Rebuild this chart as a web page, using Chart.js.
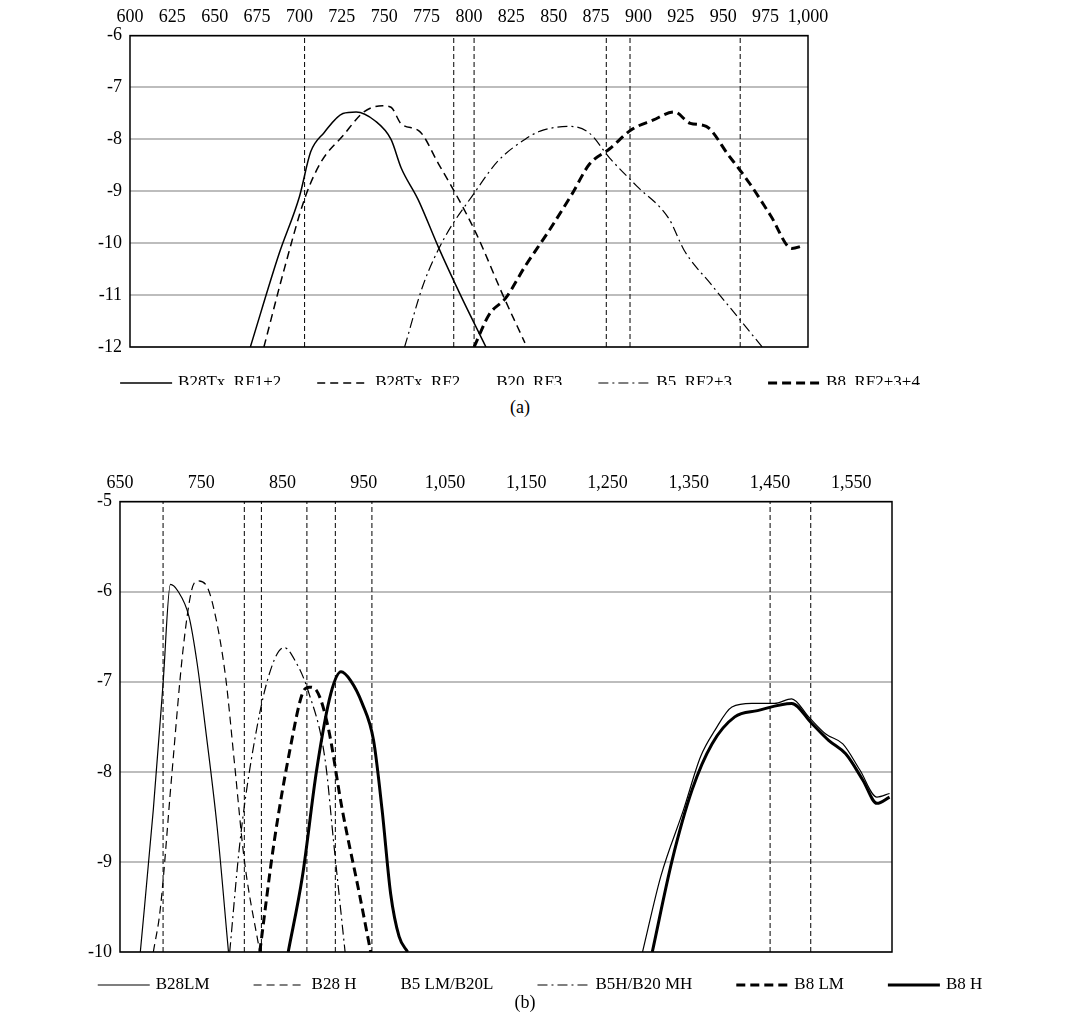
<!DOCTYPE html>
<html>
<head>
<meta charset="utf-8">
<script src="https://cdn.jsdelivr.net/npm/chart.js@4/dist/chart.umd.min.js"></script>
<style>
  body { margin: 0; background: #fff; width: 1080px; height: 1026px; position: relative; font-family: "Liberation Serif", serif; }
  .box { position: absolute; left: 0; width: 1080px; }
  .cap { position: absolute; width: 100%; text-align: center; font-size: 18px; }
</style>
</head>
<body>
<div class="box" style="top:0;height:385px"><canvas id="chartA"></canvas></div>
<div class="cap" style="top:397px;left:-20px">(a)</div>
<div class="box" style="top:458px;height:540px"><canvas id="chartB"></canvas></div>
<div class="cap" style="top:992px;left:-15px">(b)</div>
<script>
// ---- (a) ----
const ticksA = [600, 625, 650, 675, 700, 725, 750, 775, 800, 825, 850, 875, 900, 925, 950, 975, 1000];
const markersA = [703, 791, 803, 881, 895, 960];
const rf12X = [671, 688, 700, 706.6, 714.5, 725.6, 733.4, 744.5, 754, 760, 770, 782, 795, 810];
const rf12Y = [-12, -10.2, -9.1, -8.24, -7.87, -7.5, -7.47, -7.64, -8.0, -8.55, -9.16, -10.08, -11, -12];
const rf2X = [679, 691, 703.5, 713, 725.6, 738, 749, 754, 760, 771, 782, 792, 804.5, 820, 833];
const rf2Y = [-12, -10.5, -9.1, -8.42, -7.93, -7.47, -7.35, -7.38, -7.7, -7.85, -8.47, -9.04, -9.83, -11, -11.92];
const b5aX = [762, 773, 785.5, 803, 817, 833, 842, 859.6, 870.7, 883, 899, 918, 927, 943, 960.5, 973];
const b5aY = [-12, -10.8, -9.9, -9.04, -8.42, -8.0, -7.84, -7.75, -7.87, -8.36, -8.9, -9.53, -10.14, -10.8, -11.5, -12];
const b8X = [803, 812, 821.6, 833, 847, 861, 871, 883, 896, 908.5, 921, 930.6, 940, 953, 965.6, 978, 990.5, 997];
const b8Y = [-12, -11.37, -11.06, -10.45, -9.77, -9.04, -8.48, -8.18, -7.81, -7.63, -7.47, -7.69, -7.75, -8.3, -8.85, -9.47, -10.1, -10.05];

// ---- (b) ----
const ticksB = [650, 750, 850, 950, 1050, 1150, 1250, 1350, 1450, 1550];
const markersB = [703, 803, 824, 880, 915, 960, 1450, 1500];
const lmX = [675, 691, 703, 712, 721, 735, 745, 755.5, 769.5, 783.5];
const lmY = [-10, -8.42, -7.02, -5.92, -5.99, -6.28, -6.8, -7.54, -8.61, -10];
const hX = [691, 699.5, 713.5, 727.5, 738, 745, 755.5, 766, 780, 790.5, 803, 822];
const hY = [-10, -9.53, -8.06, -6.65, -5.99, -5.88, -5.92, -6.21, -6.95, -7.87, -8.98, -10];
const b5lX = [1293, 1315.5, 1343.5, 1364.5, 1382, 1403, 1427.5, 1455.5, 1476.5, 1497.5, 1518.5, 1539.5, 1560.5, 1581.5, 1597];
const b5lY = [-10, -9.16, -8.42, -7.83, -7.54, -7.28, -7.24, -7.24, -7.19, -7.39, -7.58, -7.69, -7.98, -8.28, -8.24];
const b5hX = [785, 797.5, 811.5, 832.5, 852, 867.5, 881.5, 902.5, 913, 927];
const b5hY = [-10, -8.79, -7.87, -6.95, -6.62, -6.8, -7.1, -7.87, -8.79, -10];
const b8lX = [822, 839.5, 860.5, 874.5, 883, 892, 906, 923.5, 944.5, 958.5];
const b8lY = [-10, -8.79, -7.69, -7.13, -7.06, -7.1, -7.5, -8.42, -9.35, -10];
const b8hX = [857, 874.5, 892, 909.5, 922, 934, 948, 962, 972.5, 983, 993.5, 1004];
const b8hY = [-10, -9.16, -7.98, -7.13, -6.89, -6.99, -7.24, -7.65, -8.42, -9.35, -9.83, -10];
const longX = [1305, 1329.5, 1354, 1378.5, 1406.5, 1434.5, 1476.5, 1501, 1522, 1543, 1564, 1581.5, 1597];
const longY = [-10, -8.98, -8.2, -7.69, -7.39, -7.32, -7.24, -7.46, -7.65, -7.8, -8.09, -8.35, -8.28];

const zip = (xs, ys) => xs.map((x, i) => ({ x, y: ys[i] }));
const FONT = 'Liberation Serif';

function curve(label, xs, ys, dash, width, symbol = true) {
  return { label, symbol, data: zip(xs, ys), borderColor: '#000', backgroundColor: '#000', borderDash: dash,
    borderWidth: width, pointRadius: 0, cubicInterpolationMode: 'monotone', fill: false };
}
function marker(x, ymin, ymax) {
  return { label: '', data: [{ x, y: ymin }, { x, y: ymax }], borderColor: '#000',
    borderWidth: 1, borderDash: [5, 3], pointRadius: 0, fill: false };
}

const frame = {
  id: 'frame',
  afterDatasetsDraw(c) {
    const a = c.chartArea, ctx = c.ctx;
    ctx.save();
    ctx.strokeStyle = '#000';
    ctx.lineWidth = 1.5;
    ctx.strokeRect(a.left, a.top, a.right - a.left, a.bottom - a.top);
    ctx.restore();
  }
};

// legend drawn by hand so the dash patterns show: symbol then text
const lineLegend = {
  id: 'lineLegend',
  afterDraw(c, args, opts) {
    const ctx = c.ctx;
    const items = c.data.datasets.filter(d => d.label);
    ctx.save();
    ctx.font = '17px ' + FONT;
    ctx.textBaseline = 'middle';
    const sw = 52, gap = 6;
    const widths = items.map(d => (d.symbol ? sw + gap : 0) + ctx.measureText(d.label).width);
    const total = widths.reduce((s, w) => s + w, 0) + opts.spacing * (items.length - 1);
    let x = opts.center - total / 2;
    const y = c.chartArea.bottom + opts.offset;
    items.forEach((d, i) => {
      if (d.symbol) {
        ctx.beginPath();
        ctx.setLineDash(d.borderDash);
        ctx.lineWidth = d.borderWidth;
        ctx.strokeStyle = '#000';
        ctx.moveTo(x, y);
        ctx.lineTo(x + sw, y);
        ctx.stroke();
        x += sw + gap;
      }
      ctx.setLineDash([]);
      ctx.fillStyle = '#000';
      ctx.fillText(d.label, x, y);
      x += ctx.measureText(d.label).width + opts.spacing;
    });
    ctx.restore();
  }
};

function build(id, datasets, xmin, xmax, xticks, ymin, ymax, pad, legendOpts) {
  new Chart(document.getElementById(id), {
    type: 'line',
    data: { datasets },
    plugins: [frame, lineLegend],
    options: {
      responsive: true, maintainAspectRatio: false, animation: false,
      layout: { padding: pad },
      plugins: {
        legend: { display: false },
        tooltip: { enabled: false },
        lineLegend: legendOpts
      },
      scales: {
        x: {
          type: 'linear', position: 'top', min: xmin, max: xmax,
          afterBuildTicks: s => { s.ticks = xticks.map(v => ({ value: v })); },
          ticks: { padding: 0, font: { family: FONT, size: 18 }, color: '#000', autoSkip: false, maxRotation: 0 },
          grid: { display: false }, border: { display: false }
        },
        y: {
          min: ymin, max: ymax,
          ticks: { stepSize: 1, font: { family: FONT, size: 18 }, color: '#000', padding: 8 },
          grid: { color: '#bdbdbd', lineWidth: 2, drawTicks: false }, border: { display: false }
        }
      }
    }
  });
}

build('chartA', [
  curve('B28Tx_RF1+2', rf12X, rf12Y, [], 1.5),
  curve('B28Tx_RF2', rf2X, rf2Y, [8, 5], 1.5),
  curve('B20_RF3', [], [], [], 1.2, false),
  curve('B5_RF2+3', b5aX, b5aY, [10, 4, 2, 4], 1.2),
  curve('B8_RF2+3+4', b8X, b8Y, [9, 5], 3),
  ...markersA.map(x => marker(x, -12, -6))
], 600, 1000, ticksA, -12, -6, { left: 90, right: 272, top: 6, bottom: 38 },
  { center: 520, offset: 36, spacing: 36 });

build('chartB', [
  curve('B28LM', lmX, lmY, [], 1.2),
  curve('B28 H', hX, hY, [8, 5], 1.2),
  curve('B5 LM/B20L', b5lX, b5lY, [], 1.2, false),
  curve('B5H/B20 MH', b5hX, b5hY, [10, 4, 2, 4], 1.2),
  curve('B8 LM', b8lX, b8lY, [9, 5], 3),
  curve('B8 H', b8hX, b8hY, [], 3),
  curve('', longX, longY, [], 3),
  ...markersB.map(x => marker(x, -10, -5))
], 650, 1600, ticksB, -10, -5, { left: 80, right: 188, top: 14, bottom: 46 },
  { center: 540, offset: 33, spacing: 44 });
</script>
</body>
</html>
